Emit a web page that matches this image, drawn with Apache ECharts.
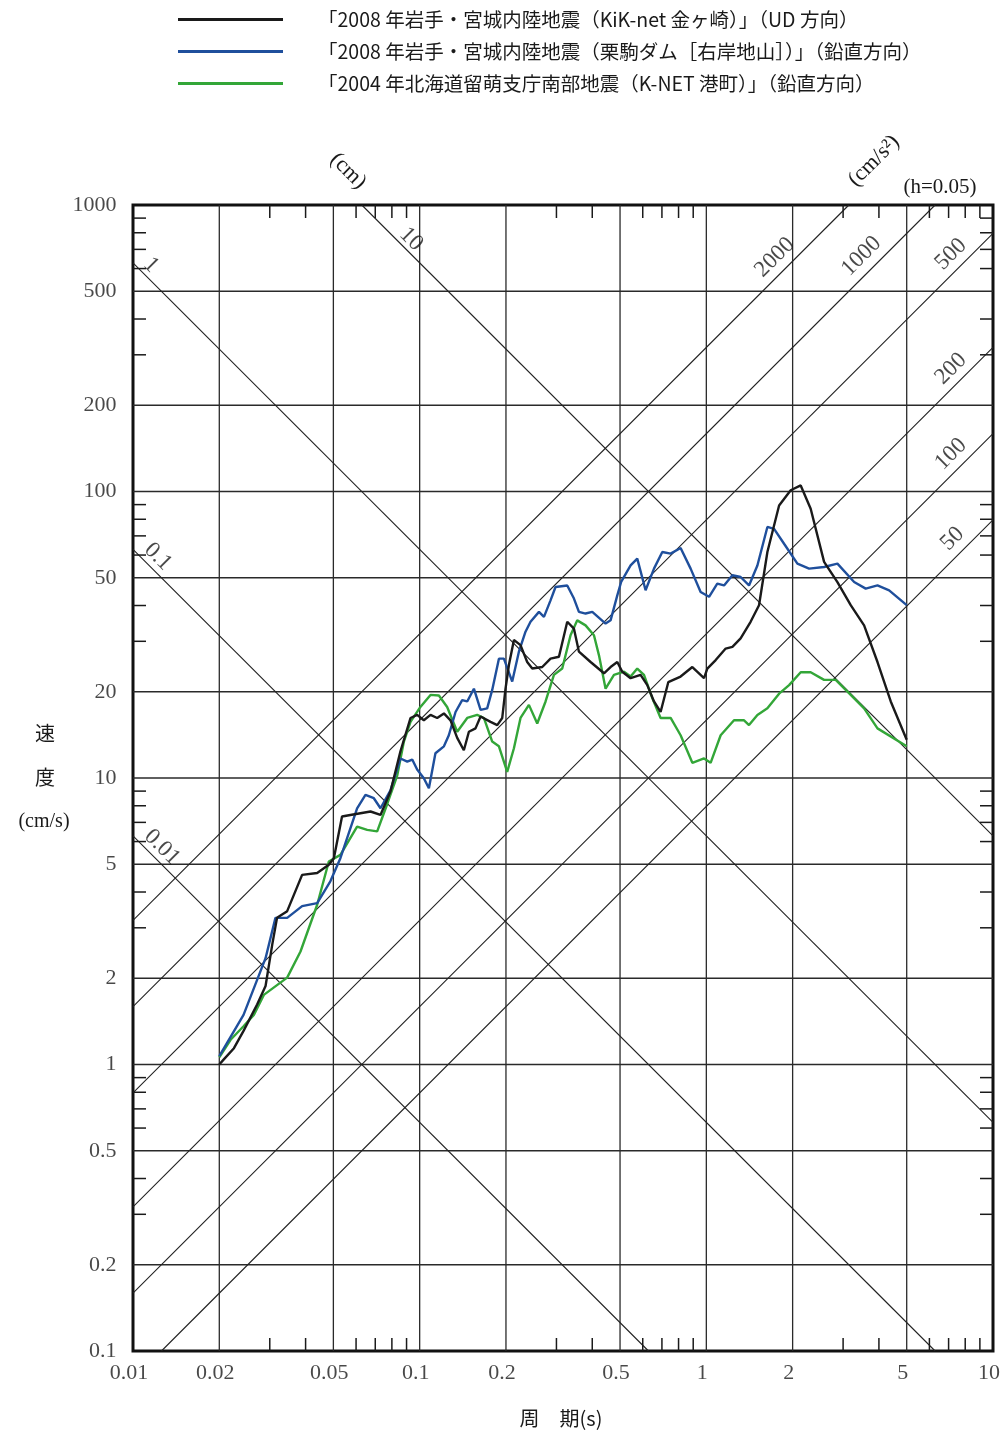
<!DOCTYPE html>
<html>
<head>
<meta charset="utf-8">
<title>応答スペクトル</title>
<script src="https://cdn.jsdelivr.net/npm/echarts@6/dist/echarts.min.js"></script>
<style>
html, body { margin: 0; padding: 0; background: #fff; }
#chart { width: 1007px; height: 1436px; }
</style>
</head>
<body>
<div id="chart"></div>
<script>
// 2008 岩手・宮城内陸地震 KiK-net 金ヶ崎 (UD)
const kikPeriod = [0.02,0.0207,0.0225,0.0243,0.0257,0.0271,0.029,0.0306,0.0318,0.0345,0.0389,0.0439,0.0482,0.0502,0.0536,0.0573,0.0674,0.073,0.0791,0.0857,0.0929,0.098,0.1034,0.1091,0.1151,0.1215,0.1281,0.1352,0.1426,0.1485,0.1566,0.1631,0.1767,0.1865,0.1941,0.1993,0.2048,0.2132,0.2248,0.2372,0.247,0.2677,0.2861,0.3061,0.3272,0.3453,0.3594,0.3947,0.4395,0.4634,0.4891,0.5091,0.5443,0.5898,0.6224,0.6568,0.6925,0.7366,0.8133,0.8937,0.9817,1.008,1.078,1.168,1.233,1.317,1.427,1.527,1.633,1.794,1.969,2.134,2.312,2.575,2.866,3.189,3.551,3.954,4.399,5.0];
const kikVel = [1.0,1.04,1.14,1.31,1.46,1.62,1.88,2.62,3.25,3.43,4.59,4.66,4.98,5.25,7.34,7.43,7.64,7.43,8.97,12.4,16.2,16.6,15.9,16.6,16.2,16.8,15.9,13.8,12.5,14.5,14.9,16.4,15.7,15.3,16.2,20.5,24.8,30.3,29.1,25.4,24.1,24.4,26.1,26.5,35.1,33.2,27.6,25.4,23.2,24.4,25.4,23.5,22.3,22.9,21.1,18.5,17.0,21.6,22.6,24.4,22.3,24.1,25.8,28.3,28.7,30.7,35.1,40.1,61.5,89.4,101,105,87.0,56.8,48.3,40.1,34.1,25.4,18.5,13.6];

// 2008 岩手・宮城内陸地震 栗駒ダム[右岸地山] (鉛直)
const damPeriod = [0.02,0.0243,0.029,0.0314,0.0345,0.0389,0.0439,0.0488,0.0529,0.0605,0.0647,0.0692,0.073,0.0791,0.0857,0.0905,0.0942,0.098,0.1034,0.1077,0.1135,0.1215,0.1264,0.1334,0.1407,0.1465,0.1546,0.1631,0.172,0.1791,0.189,0.1967,0.2103,0.2219,0.234,0.2436,0.2607,0.2714,0.2861,0.2978,0.3272,0.3453,0.3594,0.3791,0.4001,0.4452,0.4634,0.4891,0.505,0.5443,0.5742,0.6139,0.6568,0.7021,0.7507,0.8133,0.8815,0.9552,1.022,1.092,1.153,1.233,1.317,1.409,1.507,1.633,1.723,1.867,2.078,2.283,2.575,2.866,3.278,3.597,3.954,4.342,5.0];
const damVel = [1.07,1.49,2.35,3.25,3.25,3.57,3.66,4.36,5.25,7.84,8.73,8.50,7.84,9.06,11.7,11.4,11.6,10.7,9.98,9.21,12.2,12.9,14.1,17.0,18.7,18.5,20.5,17.3,17.5,20.3,26.1,26.1,21.7,27.6,32.4,35.1,38.0,36.5,41.7,46.4,47.0,42.3,38.0,37.5,38.0,34.6,35.5,43.4,48.5,55.2,58.3,45.2,53.8,61.5,60.7,63.5,53.8,44.6,42.9,47.7,47.0,51.0,50.3,47.0,55.2,75.2,74.1,65.7,56.0,53.8,54.5,56.0,48.3,45.8,47.0,45.2,40.1];

// 2004 北海道留萌支庁南部地震 K-NET 港町 (鉛直)
const rumoiPeriod = [0.02,0.0219,0.0243,0.0264,0.0286,0.0345,0.0384,0.0439,0.0482,0.0529,0.0605,0.0656,0.0711,0.077,0.0835,0.0881,0.0929,0.1006,0.1091,0.1167,0.1247,0.1352,0.1465,0.1587,0.1675,0.1791,0.189,0.202,0.2132,0.2248,0.2405,0.2571,0.2749,0.294,0.3143,0.336,0.3546,0.3791,0.4055,0.4222,0.4452,0.4762,0.5162,0.5443,0.5742,0.6061,0.6479,0.6925,0.7507,0.8133,0.8937,0.9817,1.035,1.122,1.249,1.354,1.409,1.507,1.633,1.794,1.944,2.134,2.312,2.575,2.827,3.189,3.551,3.954,5.0];
const rumoiVel = [1.06,1.22,1.36,1.49,1.75,2.01,2.48,3.61,5.11,5.39,6.77,6.59,6.51,8.10,10.2,13.4,15.7,17.7,19.5,19.4,17.7,14.5,16.2,16.6,16.2,13.4,12.9,10.5,12.7,16.2,18.0,15.5,18.5,22.9,24.1,31.5,35.5,34.1,31.5,26.8,20.5,22.9,23.5,22.6,24.1,22.9,19.0,16.2,16.2,14.1,11.3,11.7,11.3,14.1,15.9,15.9,15.3,16.6,17.5,19.7,21.1,23.4,23.4,22.0,22.0,19.5,17.5,14.9,12.9];

const seriesNames = [
  '「2008 年岩手・宮城内陸地震（KiK-net 金ヶ崎）」（UD 方向）',
  '「2008 年岩手・宮城内陸地震（栗駒ダム［右岸地山］）」（鉛直方向）',
  '「2004 年北海道留萌支庁南部地震（K-NET 港町）」（鉛直方向）'
];
const seriesColors = ['#1a1a1a', '#1f4f9c', '#33a638'];

// 軸目盛
const xTicks = [0.01,0.02,0.05,0.1,0.2,0.5,1,2,5,10];
const xTickText = ['0.01','0.02','0.05','0.1','0.2','0.5','1','2','5','10'];
const yTicks = [0.1,0.2,0.5,1,2,5,10,20,50,100,200,500,1000];
const yTickText = ['0.1','0.2','0.5','1','2','5','10','20','50','100','200','500','1000'];
const xGrid = [0.02,0.05,0.1,0.2,0.5,1,2,5];
const yGrid = [0.2,0.5,1,2,5,10,20,50,100,200,500];
const xMinor = [0.03,0.04,0.06,0.07,0.08,0.09,0.3,0.4,0.6,0.7,0.8,0.9,3,4,6,7,8,9];
const yMinor = [0.3,0.4,0.6,0.7,0.8,0.9,3,4,6,7,8,9,30,40,60,70,80,90,300,400,600,700,800,900];

// 変位 (cm) と加速度 (cm/s2) の斜線
const dispLines = [0.01, 0.1, 1, 10];
const dispLabelPos = [[0.01263,5.73],[0.01223,59.2],[0.01156,617],[0.0934,760]];
const accLines = [50, 100, 200, 500, 1000, 2000];
const accLabelPos = [[7.22,68.4],[7.125,135],[7.125,268],[7.125,673],[3.475,663],[1.733,656]];

const SERIF = "'Liberation Serif','DejaVu Serif','Noto Sans CJK JP',serif";
const JP = "'Noto Sans CJK JP','Liberation Serif',sans-serif";
const TICK_LEN = 13;

function zip(a, b) { return a.map((v, i) => [v, b[i]]); }

// 斜線の端点（枠内にクリップ）
function dispSeg(d) {
  const k = 2 * Math.PI * d;
  const t0 = Math.max(0.01, k / 1000), t1 = Math.min(10, k / 0.1);
  return [[t0, k / t0], [t1, k / t1]];
}
function accSeg(a) {
  const k = a / (2 * Math.PI);
  const t0 = Math.max(0.01, 0.1 / k), t1 = Math.min(10, 1000 / k);
  return [[t0, k * t0], [t1, k * t1]];
}

function guideSeries(seg) {
  return {
    type: 'line', data: seg, showSymbol: false, silent: true, z: 2,
    lineStyle: { color: '#222', width: 1.1 }
  };
}

const chart = echarts.init(document.getElementById('chart'));

const series = [];

// 格子線
series.push({
  type: 'custom', silent: true, z: 1,
  data: xGrid.map(v => [v, 1]).concat(yGrid.map(v => [1, v])),
  renderItem: function (params, api) {
    const i = params.dataIndex;
    let a, b;
    if (i < xGrid.length) {
      a = api.coord([api.value(0), 0.1]); b = api.coord([api.value(0), 1000]);
    } else {
      a = api.coord([0.01, api.value(1)]); b = api.coord([10, api.value(1)]);
    }
    return { type: 'line', shape: { x1: a[0], y1: a[1], x2: b[0], y2: b[1] },
      style: { stroke: '#2a2a2a', lineWidth: 1.3 } };
  }
});

// 補助目盛（内向き）
series.push({
  type: 'custom', silent: true, z: 3,
  data: xMinor.map(v => [v, 1]).concat(yMinor.map(v => [1, v])),
  renderItem: function (params, api) {
    const i = params.dataIndex;
    const st = { stroke: '#1a1a1a', lineWidth: 1.5 };
    if (i < xMinor.length) {
      const b = api.coord([api.value(0), 0.1]), t = api.coord([api.value(0), 1000]);
      return { type: 'group', children: [
        { type: 'line', shape: { x1: b[0], y1: b[1], x2: b[0], y2: b[1] - TICK_LEN }, style: st },
        { type: 'line', shape: { x1: t[0], y1: t[1], x2: t[0], y2: t[1] + TICK_LEN }, style: st }
      ] };
    }
    const l = api.coord([0.01, api.value(1)]), r = api.coord([10, api.value(1)]);
    return { type: 'group', children: [
      { type: 'line', shape: { x1: l[0], y1: l[1], x2: l[0] + TICK_LEN, y2: l[1] }, style: st },
      { type: 'line', shape: { x1: r[0], y1: r[1], x2: r[0] - TICK_LEN, y2: r[1] }, style: st }
    ] };
  }
});

dispLines.forEach(d => series.push(guideSeries(dispSeg(d))));
accLines.forEach(a => series.push(guideSeries(accSeg(a))));

// 斜線ラベル
series.push({
  type: 'scatter', silent: true, clip: false, z: 6, symbolSize: 1,
  itemStyle: { color: 'rgba(0,0,0,0)' },
  data: dispLabelPos,
  label: { show: true, position: 'inside', rotate: -45, fontSize: 23, fontFamily: SERIF, color: '#1a1a1a',
    formatter: p => String(dispLines[p.dataIndex]) }
});
series.push({
  type: 'scatter', silent: true, clip: false, z: 6, symbolSize: 1,
  itemStyle: { color: 'rgba(0,0,0,0)' },
  data: accLabelPos,
  label: { show: true, position: 'inside', rotate: 45, fontSize: 23, fontFamily: SERIF, color: '#1a1a1a',
    formatter: p => String(accLines[p.dataIndex]) }
});

// 軸ラベル
series.push({
  type: 'scatter', silent: true, clip: false, z: 6, symbolSize: 1,
  itemStyle: { color: 'rgba(0,0,0,0)' },
  data: xTicks.map(v => [v, 0.1]),
  label: { show: true, position: 'bottom', distance: 11, offset: [-4, 0], fontSize: 22, fontFamily: SERIF,
    color: '#1a1a1a', formatter: p => xTickText[p.dataIndex] }
});
series.push({
  type: 'scatter', silent: true, clip: false, z: 6, symbolSize: 1,
  itemStyle: { color: 'rgba(0,0,0,0)' },
  data: yTicks.map(v => [0.01, v]),
  label: { show: true, position: 'left', distance: 16, fontSize: 22, fontFamily: SERIF,
    color: '#1a1a1a', formatter: p => yTickText[p.dataIndex] }
});

// スペクトル
[[kikPeriod, kikVel], [damPeriod, damVel], [rumoiPeriod, rumoiVel]].forEach((s, i) => {
  series.push({
    name: seriesNames[i], type: 'line', data: zip(s[0], s[1]), showSymbol: false, z: 10 - i,
    lineStyle: { color: seriesColors[i], width: 2.4 }, itemStyle: { color: seriesColors[i] }
  });
});

chart.setOption({
  animation: false,
  backgroundColor: '#fff',
  legend: {
    orient: 'vertical', left: 173, top: 4, icon: 'rect', itemWidth: 105, itemHeight: 3, itemGap: 11,
    data: seriesNames,
    textStyle: { fontSize: 19.5, fontFamily: JP, color: '#1a1a1a', lineHeight: 21, padding: [0, 0, 0, 30] }
  },
  grid: { left: 133, top: 205, width: 860, height: 1146, show: true, borderColor: '#111', borderWidth: 3,
    backgroundColor: 'transparent' },
  xAxis: { type: 'log', logBase: 10, min: 0.01, max: 10, axisLine: { show: false }, axisTick: { show: false },
    axisLabel: { show: false }, splitLine: { show: false } },
  yAxis: { type: 'log', logBase: 10, min: 0.1, max: 1000, axisLine: { show: false }, axisTick: { show: false },
    axisLabel: { show: false }, splitLine: { show: false } },
  graphic: [
    { type: 'text', x: 348, y: 171, rotation: -Math.PI / 4,
      style: { text: '(cm)', font: '22px ' + SERIF, fill: '#1a1a1a', align: 'center', verticalAlign: 'middle' } },
    { type: 'text', x: 874, y: 161, rotation: Math.PI / 4,
      style: { text: '(cm/s²)', font: '22px ' + SERIF, fill: '#1a1a1a', align: 'center', verticalAlign: 'middle' } },
    { type: 'text', x: 940, y: 187,
      style: { text: '(h=0.05)', font: '21px ' + SERIF, fill: '#1a1a1a', align: 'center', verticalAlign: 'middle' } },
    { type: 'text', x: 45, y: 733,
      style: { text: '速', font: '20px ' + JP, fill: '#1a1a1a', align: 'center', verticalAlign: 'middle' } },
    { type: 'text', x: 45, y: 777,
      style: { text: '度', font: '20px ' + JP, fill: '#1a1a1a', align: 'center', verticalAlign: 'middle' } },
    { type: 'text', x: 44, y: 822,
      style: { text: '(cm/s)', font: '20px ' + SERIF, fill: '#1a1a1a', align: 'center', verticalAlign: 'middle' } },
    { type: 'text', x: 561, y: 1418,
      style: { text: '周　期(s)', font: '20px ' + JP, fill: '#1a1a1a', align: 'center', verticalAlign: 'middle' } }
  ],
  series: series
});
</script>
</body>
</html>
